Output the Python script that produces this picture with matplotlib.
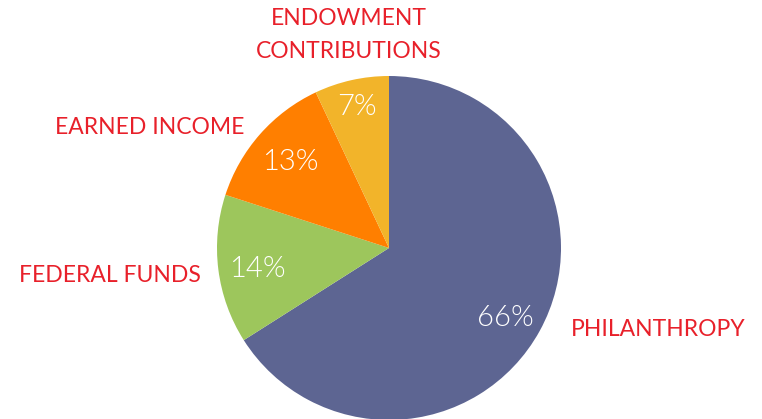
import matplotlib

matplotlib.use("Agg")
import matplotlib.pyplot as plt

# Funding mix, clockwise from 12 o'clock
labels = ["PHILANTHROPY", "FEDERAL FUNDS", "EARNED INCOME", "ENDOWMENT\nCONTRIBUTIONS"]
shares = [66, 14, 13, 7]
colors = ["#5d6592", "#9dc65c", "#ff7f00", "#f2b42a"]

LABEL_RED = "#e8202a"

fig = plt.figure(figsize=(7.62, 4.19), dpi=100)
fig.patch.set_facecolor("white")
ax = fig.add_axes([0, 0, 1, 1])

# pie in pixel coordinates; the bottom edge runs just past the frame
cx, cy, r = 389, 171, 172
wedges, _, pct = ax.pie(
    shares, colors=colors, startangle=90, counterclock=False,
    center=(cx, cy), radius=r, frame=True,
    autopct="%d%%", pctdistance=0.72,
    wedgeprops=dict(linewidth=0),
    textprops=dict(color="white", fontsize=21, family="Lato", fontweight=300),
)
ax.set_xlim(0, 762)
ax.set_ylim(0, 419)
ax.axis("off")

# hand-placed percentage positions to mirror the original slide
pct_pos = [(505, 101), (257, 150), (290, 257), (357, 312)]
for t, (x, y) in zip(pct, pct_pos):
    t.set_position((x, y))

label_pos = [(571, 89, "left"), (201, 144, "right"), (244, 292, "right"), (349, 384, "center")]
for txt, (x, y, ha) in zip(labels, label_pos):
    ax.text(x, y, txt, ha=ha, va="center", color=LABEL_RED, fontsize=16.5,
            family="Lato", linespacing=1.65)

fig.savefig("out.png", facecolor="white")
